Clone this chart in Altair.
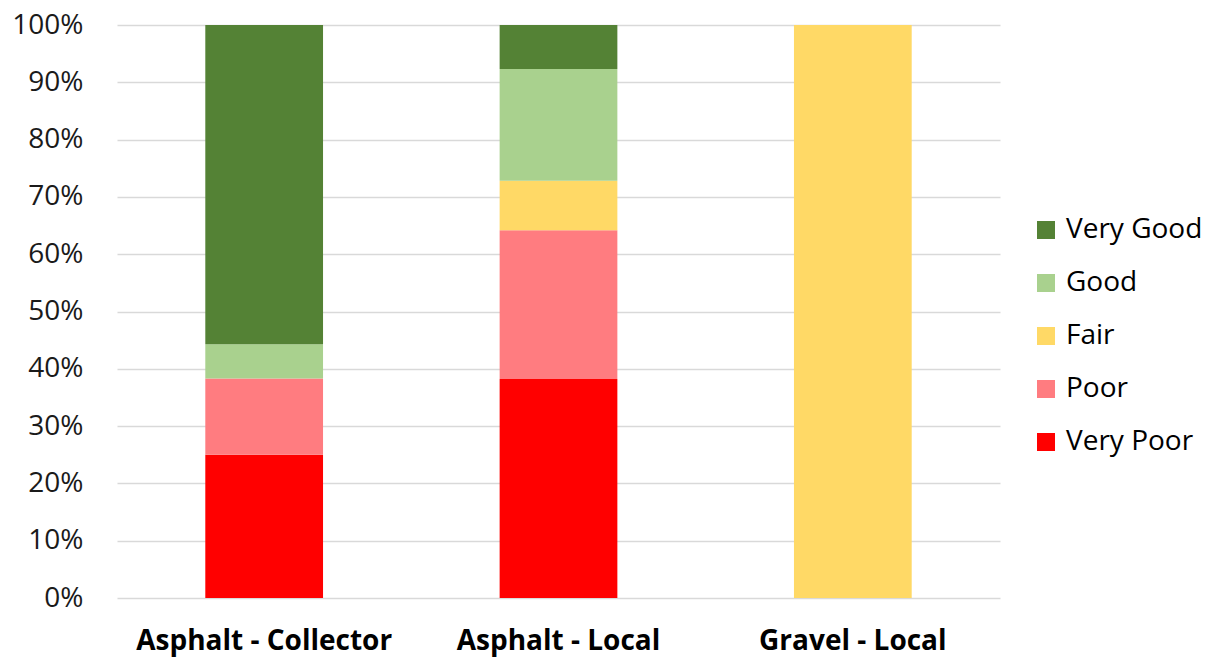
import altair as alt
import pandas as pd

categories = ["Asphalt - Collector", "Asphalt - Local", "Gravel - Local"]
conditions = ["Very Good", "Good", "Fair", "Poor", "Very Poor"]
colors = ["#548235", "#A9D18E", "#FFD966", "#FF7C80", "#FF0000"]

# percent shares per condition, in category order
very_poor = [25.0, 38.2, 0.0]
poor = [13.3, 26.0, 0.0]
fair = [0.0, 8.6, 100.0]
good = [6.0, 19.5, 0.0]
very_good = [55.7, 7.7, 0.0]

series = {"Very Poor": very_poor, "Poor": poor, "Fair": fair, "Good": good, "Very Good": very_good}
stack_rank = {"Very Poor": 0, "Poor": 1, "Fair": 2, "Good": 3, "Very Good": 4}

rows = []
for cond, vals in series.items():
    for cat, v in zip(categories, vals):
        rows.append({"category": cat, "condition": cond, "share": v / 100.0, "rank": stack_rank[cond]})
df = pd.DataFrame(rows)

FONT = "Open Sans"

chart = alt.Chart(df).mark_bar().encode(
    x=alt.X("category:N", sort=categories, title=None,
            scale=alt.Scale(paddingInner=0.6, paddingOuter=0.3),
            axis=alt.Axis(labelAngle=0, labelFontWeight="bold", labelFontSize=28,
                          labelColor="#000000", labelPadding=29, ticks=False, domain=False,
                          labelFont=FONT, labelLimit=0)),
    y=alt.Y("share:Q", stack="zero", title=None,
            scale=alt.Scale(domain=[0, 1]),
            axis=alt.Axis(format=".0%", values=[i / 10 for i in range(11)],
                          labelFontSize=28, labelColor="#1A1A1A", labelPadding=34,
                          ticks=False, domain=False, grid=True, gridColor="#D9D9D9",
                          gridWidth=1.5, labelFont=FONT)),
    color=alt.Color("condition:N", sort=conditions,
                    scale=alt.Scale(domain=conditions, range=colors),
                    legend=alt.Legend(title=None, orient="none", legendX=915, legendY=191,
                                      padding=0,
                                      symbolType="square", symbolSize=324, symbolStrokeWidth=0,
                                      labelFontSize=28, labelFont=FONT, labelColor="#000000",
                                      rowPadding=25, labelOffset=6)),
    order=alt.Order("rank:Q", sort="ascending"),
).properties(
    width=883, height=573,
    autosize=alt.AutoSizeParams(type="none"),
    padding={"left": 117, "top": 25, "right": 220, "bottom": 62},
).configure(background="#FFFFFF").configure_view(stroke=None)

chart.save("out.html", embed_options={"renderer": "svg", "actions": False})
